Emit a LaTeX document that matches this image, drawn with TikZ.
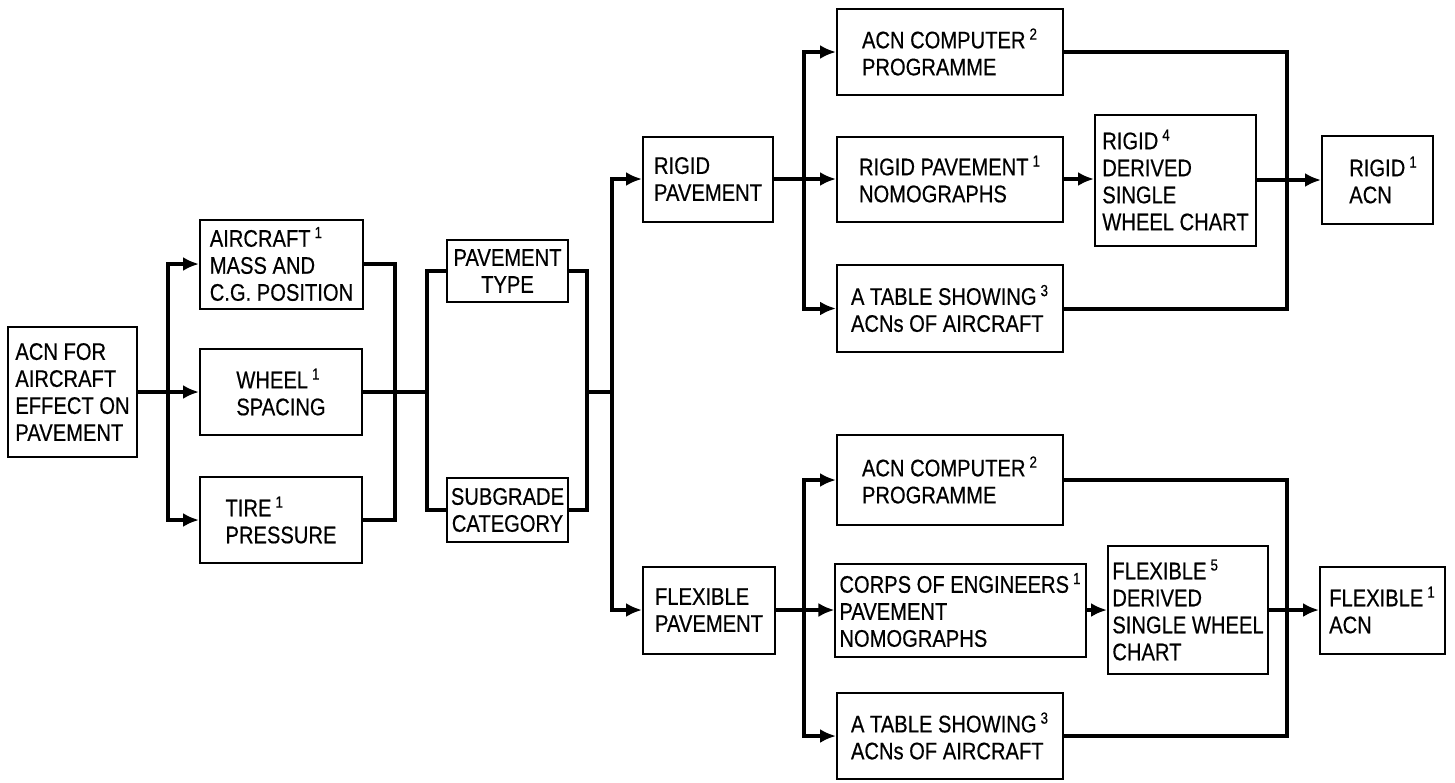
\documentclass[tikz,border=0pt]{standalone}
\usepackage{fontspec}
\setmainfont{Liberation Sans}[FakeStretch=0.84,FakeBold=0.5]
\usetikzlibrary{arrows.meta}
\tikzset{
  box/.style={draw, line width=1pt, inner sep=2pt, align=left,
    font=\fontsize{12}{13.5}\selectfont},
  cbox/.style={box, align=center},
  conn/.style={line width=2pt},
  arr/.style={conn, -{Latex[length=8pt,width=7pt]}},
}
\begin{document}
\begin{tikzpicture}[x=0.5pt,y=-0.5pt]
\useasboundingbox (0,0) rectangle (1455,782);
% nodes
\node[box, minimum width=129*0.5pt, minimum height=130*0.5pt] (acn) at (72.5,392) {ACN FOR\\AIRCRAFT\\EFFECT ON\\PAVEMENT};
\node[box, minimum width=163*0.5pt, minimum height=89*0.5pt] (air) at (281.5,264) {AIRCRAFT\,\textsuperscript{1}\\MASS AND\\C.G. POSITION};
\node[box, minimum width=162*0.5pt, minimum height=86*0.5pt] (whl) at (281,392) {WHEEL\,\textsuperscript{1}\\SPACING};
\node[box, minimum width=162*0.5pt, minimum height=86*0.5pt] (tir) at (281,520) {TIRE\,\textsuperscript{1}\\PRESSURE};
\node[cbox, minimum width=121*0.5pt, minimum height=62*0.5pt] (pty) at (507.5,271) {PAVEMENT\\TYPE};
\node[cbox, minimum width=121*0.5pt, minimum height=64*0.5pt] (sub) at (507.5,510) {SUBGRADE\\CATEGORY};
\node[box, minimum width=130*0.5pt, minimum height=85*0.5pt] (rpv) at (708,179) {RIGID\\PAVEMENT};
\node[box, minimum width=132*0.5pt, minimum height=87*0.5pt] (fpv) at (709,610) {FLEXIBLE\\PAVEMENT};
\node[box, minimum width=226*0.5pt, minimum height=86*0.5pt] (racp) at (950,52) {ACN COMPUTER\,\textsuperscript{2}\\PROGRAMME};
\node[box, minimum width=226*0.5pt, minimum height=85*0.5pt] (rnom) at (950,179) {RIGID PAVEMENT\,\textsuperscript{1}\\NOMOGRAPHS};
\node[box, minimum width=226*0.5pt, minimum height=87*0.5pt] (rtab) at (950,308.5) {A TABLE SHOWING\,\textsuperscript{3}\\ACNs OF AIRCRAFT};
\node[box, minimum width=161*0.5pt, minimum height=131*0.5pt] (rder) at (1175.5,180) {RIGID\,\textsuperscript{4}\\DERIVED\\SINGLE\\WHEEL CHART};
\node[box, minimum width=111*0.5pt, minimum height=88*0.5pt] (racn) at (1377.5,180) {\hspace*{6pt}RIGID\,\textsuperscript{1}\\\hspace*{6pt}ACN};
\node[box, minimum width=226*0.5pt, minimum height=90*0.5pt] (facp) at (950,480) {ACN COMPUTER\,\textsuperscript{2}\\PROGRAMME};
\node[box, minimum width=249*0.5pt, minimum height=93*0.5pt] (fnom) at (960.5,610) {CORPS OF ENGINEERS\,\textsuperscript{1}\\PAVEMENT\\NOMOGRAPHS};
\node[box, minimum width=226*0.5pt, minimum height=86*0.5pt] (ftab) at (950,736) {A TABLE SHOWING\,\textsuperscript{3}\\ACNs OF AIRCRAFT};
\node[box, minimum width=160*0.5pt, minimum height=128*0.5pt] (fder) at (1188,610) {FLEXIBLE\,\textsuperscript{5}\\DERIVED\\SINGLE WHEEL\\CHART};
\node[box, minimum width=125*0.5pt, minimum height=87*0.5pt] (facn) at (1382.5,610) {FLEXIBLE\,\textsuperscript{1}\\ACN};
% junction coordinates
\coordinate (j1) at (168,392);
\coordinate (c1) at (395,392);
\coordinate (j2) at (427,392);
\coordinate (c2) at (587,392);
\coordinate (j3) at (612,392);
\coordinate (j4) at (804,179);
\coordinate (c5) at (1287,180);
\coordinate (j5) at (804,610);
\coordinate (c6) at (1287,610);
% connectors
\draw[arr] (acn.east) -- (whl.west);
\draw[arr] (j1) |- (air.west);
\draw[arr] (j1) |- (tir.west);
\draw[conn] (air.east) -| (c1) |- (tir.east);
\draw[conn] (whl.east) -- (j2);
\draw[conn] (pty.west) -| (j2) |- (sub.west);
\draw[conn] (pty.east) -| (c2) |- (sub.east);
\draw[conn] (c2) -- (j3);
\draw[arr] (j3) |- (rpv.west);
\draw[arr] (j3) |- (fpv.west);
\draw[arr] (rpv.east) -- (rnom.west);
\draw[arr] (j4) |- (racp.west);
\draw[arr] (j4) |- (rtab.west);
\draw[arr] (rnom.east) -- (rnom.east -| rder.west);
\draw[arr] (rder.east) -- (racn.west);
\draw[conn] (racp.east) -| (c5) |- (rtab.east);
\draw[arr] (fpv.east) -- (fnom.west);
\draw[arr] (j5) |- (facp.west);
\draw[arr] (j5) |- (ftab.west);
\draw[arr] (fnom.east) -- (fder.west);
\draw[arr] (fder.east) -- (facn.west);
\draw[conn] (facp.east) -| (c6) |- (ftab.east);
\end{tikzpicture}
\end{document}
